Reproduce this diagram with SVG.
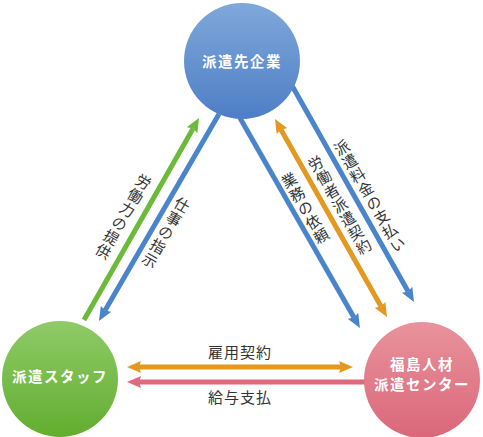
<svg xmlns="http://www.w3.org/2000/svg" width="483" height="437" viewBox="0 0 483 437">
<style>
.ln{fill:none;stroke-width:5}
.lbl{font-family:"Noto Sans CJK JP","Noto Sans",sans-serif;font-size:15px;fill:#333;letter-spacing:1px}
.vt{writing-mode:vertical-rl;text-anchor:middle}
.nl{font-family:"Noto Sans CJK JP","Noto Sans",sans-serif;font-size:14.5px;font-weight:bold;fill:#fff;text-anchor:middle;letter-spacing:1.5px}
</style>
<defs>
<linearGradient id="gB" x1="0" y1="0" x2="0" y2="1"><stop offset="0" stop-color="#7fa8da"/><stop offset="1" stop-color="#4e7ec6"/></linearGradient>
<linearGradient id="gG" x1="0" y1="0" x2="0" y2="1"><stop offset="0" stop-color="#8fca68"/><stop offset="1" stop-color="#62ae2f"/></linearGradient>
<linearGradient id="gP" x1="0" y1="0" x2="0" y2="1"><stop offset="0" stop-color="#e8939d"/><stop offset="1" stop-color="#db6779"/></linearGradient>
<marker id="aB" viewBox="0 0 14 12" refX="2" refY="6" markerWidth="14" markerHeight="12" markerUnits="userSpaceOnUse" orient="auto-start-reverse"><path d="M0,0 L14,6 L0,12 L2,6 z" fill="#4a84cb"/></marker>
<marker id="aG" viewBox="0 0 14 12" refX="2" refY="6" markerWidth="14" markerHeight="12" markerUnits="userSpaceOnUse" orient="auto-start-reverse"><path d="M0,0 L14,6 L0,12 L2,6 z" fill="#6cba3a"/></marker>
<marker id="aO" viewBox="0 0 14 12" refX="2" refY="6" markerWidth="14" markerHeight="12" markerUnits="userSpaceOnUse" orient="auto-start-reverse"><path d="M0,0 L14,6 L0,12 L2,6 z" fill="#e3981f"/></marker>
<marker id="aP" viewBox="0 0 14 12" refX="2" refY="6" markerWidth="14" markerHeight="12" markerUnits="userSpaceOnUse" orient="auto-start-reverse"><path d="M0,0 L14,6 L0,12 L2,6 z" fill="#e06a7b"/></marker>
</defs>
<g id="connectors">
<line class="ln" x1="84" y1="320" x2="193.1" y2="128.4" stroke="#6cba3a" marker-end="url(#aG)"/>
<line class="ln" x1="219" y1="114" x2="105" y2="310.6" stroke="#4a84cb" marker-end="url(#aB)"/>
<line class="ln" x1="240" y1="118" x2="354" y2="317.6" stroke="#4a84cb" marker-end="url(#aB)"/>
<line class="ln" x1="280.9" y1="129.4" x2="381.1" y2="306.6" stroke="#e3981f" marker-start="url(#aO)" marker-end="url(#aO)"/>
<line class="ln" x1="290" y1="82" x2="408.1" y2="291.5" stroke="#4a84cb" marker-end="url(#aB)"/>
<line class="ln" x1="139" y1="367" x2="341" y2="367" stroke="#e3981f" marker-start="url(#aO)" marker-end="url(#aO)"/>
<line class="ln" x1="372" y1="382" x2="139" y2="382" stroke="#e06a7b" marker-end="url(#aP)"/>
<text class="lbl vt" transform="translate(123,217) rotate(30)">労働力の提供</text>
<text class="lbl vt" transform="translate(165.5,233) rotate(30)">仕事の指示</text>
<text class="lbl vt" transform="translate(305.5,208.5) rotate(-30)">業務の依頼</text>
<text class="lbl vt" transform="translate(340,205.5) rotate(-30)">労働者派遣契約</text>
<text class="lbl vt" transform="translate(370,196.5) rotate(-30)">派遣料金の支払い</text>
<text class="lbl" x="240" y="358" text-anchor="middle">雇用契約</text>
<text class="lbl" x="240" y="403" text-anchor="middle">給与支払</text>
</g>
<g id="node-haken-saki">
<circle cx="242" cy="61" r="58" fill="url(#gB)"/>
<text class="nl" x="242" y="67">派遣先企業</text>
</g>
<g id="node-staff">
<circle cx="60" cy="379" r="58" fill="url(#gG)"/>
<text class="nl" x="60" y="382">派遣スタッフ</text>
</g>
<g id="node-center">
<circle cx="422" cy="380" r="58" fill="url(#gP)"/>
<text class="nl" x="422" y="370">福島人材</text>
<text class="nl" x="422" y="390">派遣センター</text>
</g>
</svg>
